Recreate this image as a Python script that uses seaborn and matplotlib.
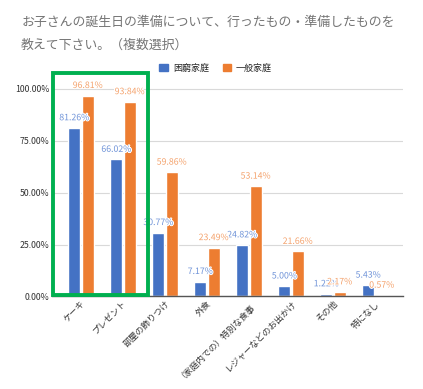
import matplotlib
matplotlib.use("Agg")
import matplotlib.pyplot as plt
import matplotlib.patches as mpatches
import matplotlib.patheffects as pe
import seaborn as sns
import pandas as pd

categories = ["ケーキ", "プレゼント", "部屋の飾りつけ", "外食", "（家庭内での）特別な食事",
              "レジャーなどのお出かけ", "その他", "特になし"]
poor = [81.26, 66.02, 30.77, 7.17, 24.82, 5.00, 1.22, 5.43]
general = [96.81, 93.84, 59.86, 23.49, 53.14, 21.66, 2.17, 0.57]
series_names = ["困窮家庭", "一般家庭"]
yticks = [0, 25, 50, 75, 100]

sns.set_theme(style="white")
plt.rcParams['font.family'] = ['Noto Sans CJK JP', 'DejaVu Sans']

bar_colors = ["#4472C4", "#ED7D31"]
label_colors = ["#6F93D8", "#F4A26C"]

df = pd.DataFrame({
    "category": categories * 2,
    "value": poor + general,
    "series": [series_names[0]] * len(categories) + [series_names[1]] * len(categories),
})

fig = plt.figure(figsize=(4.23, 3.89), dpi=100)
ax = fig.add_axes([0.123, 0.238, 0.830, 0.560])

sns.barplot(data=df, x="category", y="value", hue="series", palette=bar_colors,
            saturation=1, width=0.64, gap=0.08, ax=ax, legend=False)

for cont, col in zip(ax.containers, label_colors):
    txts = ax.bar_label(cont, labels=[f"{v:.2f}%" for v in cont.datavalues],
                        padding=4, fontsize=6.3, color=col)
    for t in txts:
        t.set_path_effects([pe.withStroke(linewidth=1.5, foreground="white")])

ax.set_ylim(0, 105)
ax.set_xlim(-0.69, len(categories) - 0.33)
ax.set_yticks(yticks)
ax.set_yticklabels([f"{v:.2f}%" for v in yticks], fontsize=6.3, color="#333333")
ax.yaxis.grid(True, color="#D9D9D9", lw=0.8)
ax.set_axisbelow(True)
ax.set_xlabel("")
ax.set_ylabel("")
ax.tick_params(axis="both", length=0, pad=2)
plt.setp(ax.get_xticklabels(), rotation=45, ha="right", rotation_mode="anchor",
         fontsize=6.3, color="#333333")
for s in ["top", "right", "left"]:
    ax.spines[s].set_visible(False)
ax.spines["bottom"].set_color("#555555")
ax.spines["bottom"].set_linewidth(1.0)

# green highlight box around first two categories
rect = mpatches.Rectangle((-0.66, 0.8), 2.26, 107, fill=False, edgecolor="#00B050",
                          lw=2.8, clip_on=False, zorder=5)
ax.add_patch(rect)

handles = [mpatches.Patch(color=c, label=n) for c, n in zip(bar_colors, series_names)]
fig.legend(handles=handles, loc="center", bbox_to_anchor=(0.51, 0.825), ncol=2,
           frameon=False, fontsize=6.5, handlelength=0.9, handleheight=0.9,
           columnspacing=1.5, handletextpad=0.6)

fig.text(0.05, 0.943, "お子さんの誕生日の準備について、行ったもの・準備したものを",
         fontsize=9.3, color="#757575", va="center")
fig.text(0.05, 0.884, "教えて下さい。（複数選択）", fontsize=9.3, color="#757575", va="center")

fig.savefig("out.png", dpi=100)
